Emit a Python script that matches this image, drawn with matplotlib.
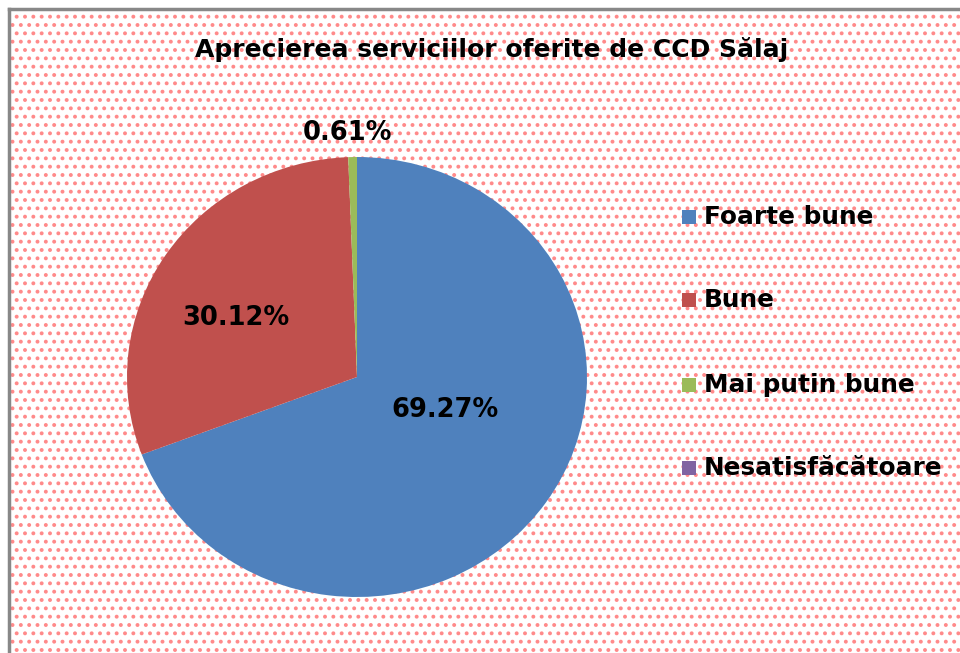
import matplotlib
matplotlib.use("Agg")
import matplotlib.pyplot as plt
from matplotlib.patches import Rectangle
from matplotlib.lines import Line2D

categories = ["Foarte bune", "Bune", "Mai putin bune", "Nesatisfăcătoare"]
values = [69.27, 30.12, 0.61, 0.0]
label_texts = ["69.27%", "30.12%", "0.61%"]
colors = ["#4F81BD", "#C0504D", "#9BBB59", "#8064A2"]
title = "Aprecierea serviciilor oferite de CCD Sălaj"

W, H = 960, 653
plt.rcParams["hatch.linewidth"] = 1.6
fig = plt.figure(figsize=(W / 100, H / 100), dpi=100)
fig.patch.set_facecolor("white")

# patterned background inside frame
bg = Rectangle((9 / W, -0.01), 1.02, 1 - 9 / H + 0.01, transform=fig.transFigure,
               facecolor="white", edgecolor="#ff8a8a", hatch="..", linewidth=0, zorder=-5)
fig.patches.append(bg)
fig.lines.append(Line2D([9 / W, 9 / W], [0, 1 - 9 / H], transform=fig.transFigure,
                        color="#888888", linewidth=2.5, zorder=-4))
fig.lines.append(Line2D([9 / W, 1], [1 - 9 / H, 1 - 9 / H], transform=fig.transFigure,
                        color="#888888", linewidth=2.5, zorder=-4))

# pie axes
cx, cy, rx, ry = 357, 377, 230, 220
ax = fig.add_axes([(cx - rx) / W, (H - cy - ry) / H, 2 * rx / W, 2 * ry / H])
ax.patch.set_alpha(0)
ax.pie(values, colors=colors, startangle=90, counterclock=False, radius=1,
       wedgeprops=dict(linewidth=0))
ax.set_xlim(-1, 1)
ax.set_ylim(-1, 1)
ax.set_aspect("auto")
ax.axis("off")

label_pos = [(0.383, -0.15), (-0.526, 0.268), (-0.04, 1.109)]
for (x, y), t in zip(label_pos, label_texts):
    ax.text(x, y, t, ha="center", va="center", fontsize=18.5, fontweight="bold",
            family="DejaVu Sans", color="black", clip_on=False)

fig.text(492 / W, 1 - 49 / H, title, ha="center", va="center", fontsize=18,
         fontweight="bold", family="DejaVu Sans")

# legend
leg_y = [217, 300, 385, 468]
for yy, c, name in zip(leg_y, colors, categories):
    fig.patches.append(Rectangle((682 / W, 1 - (yy + 7) / H), 14 / W, 14 / H,
                                 transform=fig.transFigure, facecolor=c, edgecolor="none"))
    fig.text(704 / W, 1 - yy / H, name, ha="left", va="center", fontsize=17.8,
             fontweight="bold", family="DejaVu Sans")

fig.savefig("out.png", dpi=100)
